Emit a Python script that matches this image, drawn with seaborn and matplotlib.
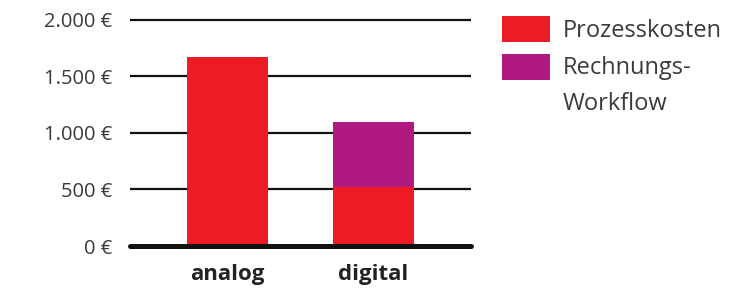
import matplotlib
matplotlib.use("Agg")
import matplotlib.pyplot as plt
import seaborn as sns
import pandas as pd
from matplotlib.patches import Rectangle

categories = ["analog", "digital"]
prozesskosten = [1670, 520]
rechnungs_workflow = [0, 580]
yticks = [0, 500, 1000, 1500, 2000]
ytick_labels = ["0 €", "500 €", "1.000 €", "1.500 €", "2.000 €"]
legend_labels = ["Prozesskosten", "Rechnungs-", "Workflow"]

RED = "#ED1C24"
PURPLE = "#B01A80"
TEXT = "#3a3a3a"

sns.set_style("white")
plt.rcParams["font.family"] = ["Open Sans", "DejaVu Sans"]

df = pd.DataFrame({
    "cat": categories,
    "proz": prozesskosten,
    "total": [p + r for p, r in zip(prozesskosten, rechnungs_workflow)],
})

W, H = 749, 292
fig = plt.figure(figsize=(7.49, 2.92), dpi=100)
ax = fig.add_axes([130 / W, 1 - 246 / H, 341 / W, 231 / H])

sns.barplot(data=df, x="cat", y="total", color=PURPLE, saturation=1, width=0.555,
            linewidth=0, edgecolor="none", ax=ax, zorder=2)
sns.barplot(data=df, x="cat", y="proz", color=RED, saturation=1, width=0.555,
            linewidth=0, edgecolor="none", ax=ax, zorder=3)

ax.set_xlim(-0.668, 1.668)
ax.set_ylim(0, 2044)
for v in yticks[1:]:
    ax.axhline(v, color="#111111", lw=1.6, zorder=1)
ax.axhline(0, color="#111111", lw=3.6, zorder=4, clip_on=False)

ax.set_yticks(yticks)
ax.set_yticklabels(ytick_labels, color=TEXT, fontsize=14.5)
ax.tick_params(axis="y", length=0, pad=13)
ax.tick_params(axis="x", length=0, pad=13)
for lbl in ax.get_xticklabels():
    lbl.set_fontweight("bold")
    lbl.set_fontsize(16)
    lbl.set_color("#222222")
ax.set_xlabel("")
ax.set_ylabel("")
for s in ax.spines.values():
    s.set_visible(False)

# legend
fig.add_artist(Rectangle((502 / W, 1 - 42 / H), 48 / W, 26 / H, transform=fig.transFigure,
                         facecolor=RED, edgecolor="none"))
fig.add_artist(Rectangle((502 / W, 1 - 80 / H), 48 / W, 26 / H, transform=fig.transFigure,
                         facecolor=PURPLE, edgecolor="none"))
for lab, yc in zip(legend_labels, [31, 68, 104]):
    fig.text(563 / W, 1 - yc / H, lab, fontsize=17, color=TEXT, va="center", ha="left")

fig.savefig("out.png", dpi=100)
